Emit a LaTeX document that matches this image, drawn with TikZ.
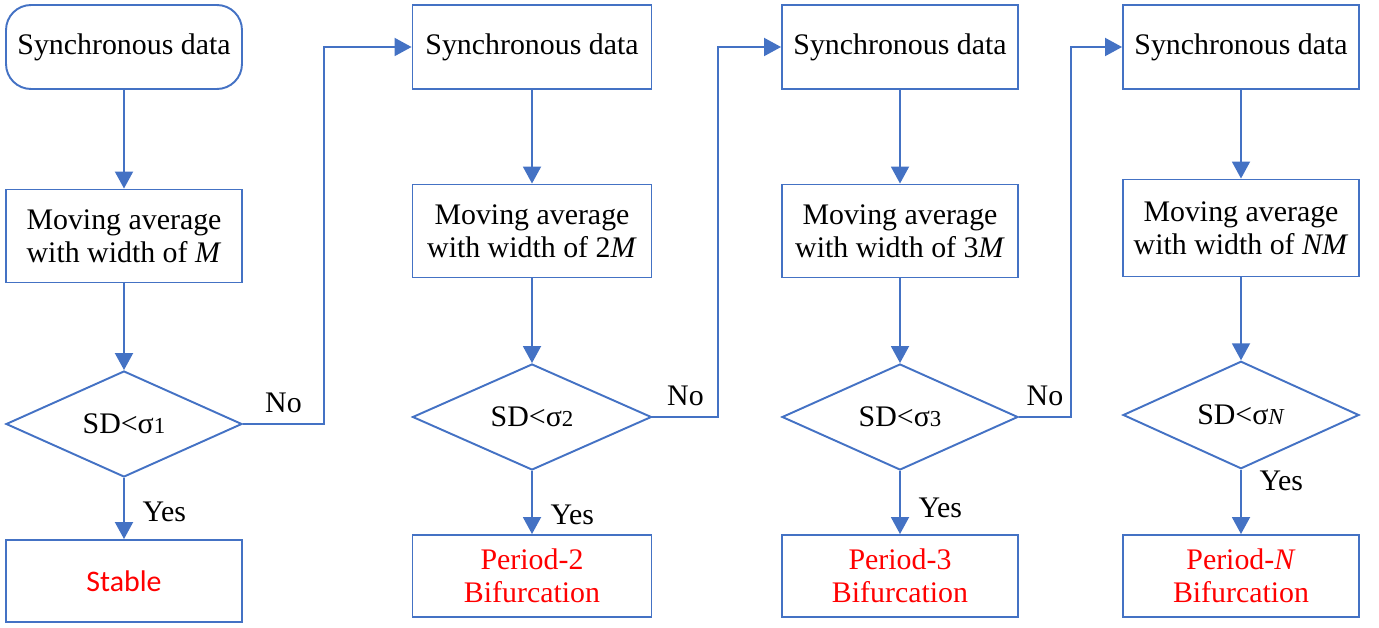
\documentclass[tikz,border=0pt]{standalone}
\usepackage{fontspec}
\setmainfont{Liberation Serif}
\newfontfamily\calibrifont{Carlito}
\usetikzlibrary{shapes.geometric,arrows.meta}
\definecolor{lineblue}{RGB}{68,114,196}
\definecolor{resred}{RGB}{255,0,0}

\begin{document}
\begin{tikzpicture}[x=0.02cm,y=-0.02cm]

	\tikzstyle{datbox}=[draw=lineblue,line width=1.1pt,rectangle,align=center,minimum width=4.72cm,minimum height=1.68cm,font=\rmfamily\fontsize{17}{19}\selectfont]
	\tikzstyle{avgbox}=[datbox,minimum height=1.86cm]
	\tikzstyle{resbox}=[datbox,minimum height=1.64cm,text=resred]
	\tikzstyle{decision}=[draw=lineblue,line width=1.1pt,diamond,minimum width=4.72cm,minimum height=2.12cm,inner sep=0pt,font=\rmfamily\fontsize{17}{19}\selectfont]
	\tikzstyle{flow}=[draw=lineblue,line width=1.1pt,-{Triangle[width=0.36cm,length=0.34cm]}]
	\tikzstyle{lab}=[font=\rmfamily\fontsize{17}{19}\selectfont,inner sep=0pt]

	\useasboundingbox (0,0) rectangle (1379,628);

	% first column
	\node[datbox,rounded corners=0.5cm] (s1) at (124,47) {Synchronous data};
	\node[avgbox] (m1) at (124,236) {Moving average\\with width of \textit{M}};
	\node[decision] (d1) at (124,424) {SD<σ{\fontsize{13}{15}\selectfont 1}};
	\node[resbox,font=\calibrifont\fontsize{17}{19}\selectfont] (r1) at (124,581) {Stable};

	% second column
	\node[datbox,minimum width=4.78cm] (s2) at (532,47) {Synchronous data};
	\node[avgbox,minimum width=4.78cm] (m2) at (532,231) {Moving average\\with width of 2\textit{M}};
	\node[decision,minimum width=4.78cm] (d2) at (532,417) {SD<σ{\fontsize{13}{15}\selectfont 2}};
	\node[resbox,minimum width=4.78cm] (r2) at (532,576) {Period-2\\Bifurcation};

	% third column
	\node[datbox] (s3) at (900,47) {Synchronous data};
	\node[avgbox] (m3) at (900,231) {Moving average\\with width of 3\textit{M}};
	\node[decision] (d3) at (900,417) {SD<σ{\fontsize{13}{15}\selectfont 3}};
	\node[resbox] (r3) at (900,576) {Period-3\\Bifurcation};

	% last column
	\node[datbox] (s4) at (1241,47) {Synchronous data};
	\node[avgbox,minimum height=1.94cm] (m4) at (1241,228) {Moving average\\with width of \textit{NM}};
	\node[decision,minimum height=1.9cm] (d4) at (1241,415) {SD<σ{\fontsize{13}{15}\selectfont\textit{N}}};
	\node[resbox] (r4) at (1241,576) {Period-\textit{N}\\Bifurcation};

	\draw[flow] (s1) -- (m1);
	\draw[flow] (m1) -- (d1);
	\draw[flow] (d1) -- (r1) node[lab,midway,right=10pt,yshift=-2pt] {Yes};

	\draw[flow] (s2) -- (m2);
	\draw[flow] (m2) -- (d2);
	\draw[flow] (d2) -- (r2) node[lab,midway,right=10pt,yshift=-7pt] {Yes};

	\draw[flow] (s3) -- (m3);
	\draw[flow] (m3) -- (d3);
	\draw[flow] (d3) -- (r3) node[lab,midway,right=10pt,yshift=-3pt] {Yes};

	\draw[flow] (s4) -- (m4);
	\draw[flow] (m4) -- (d4);
	\draw[flow] (d4) -- (r4) node[lab,midway,right=10pt,yshift=12pt] {Yes};

	\draw[flow] (d1.east) -- ++(81,0) node[lab,midway,above=6pt] {No} |- (s2.west);
	\draw[flow] (d2.east) -- ++(66,0) node[lab,midway,above=6pt] {No} |- (s3.west);
	\draw[flow] (d3.east) -- ++(52,0) node[lab,midway,above=6pt] {No} |- (s4.west);

\end{tikzpicture}
\end{document}
